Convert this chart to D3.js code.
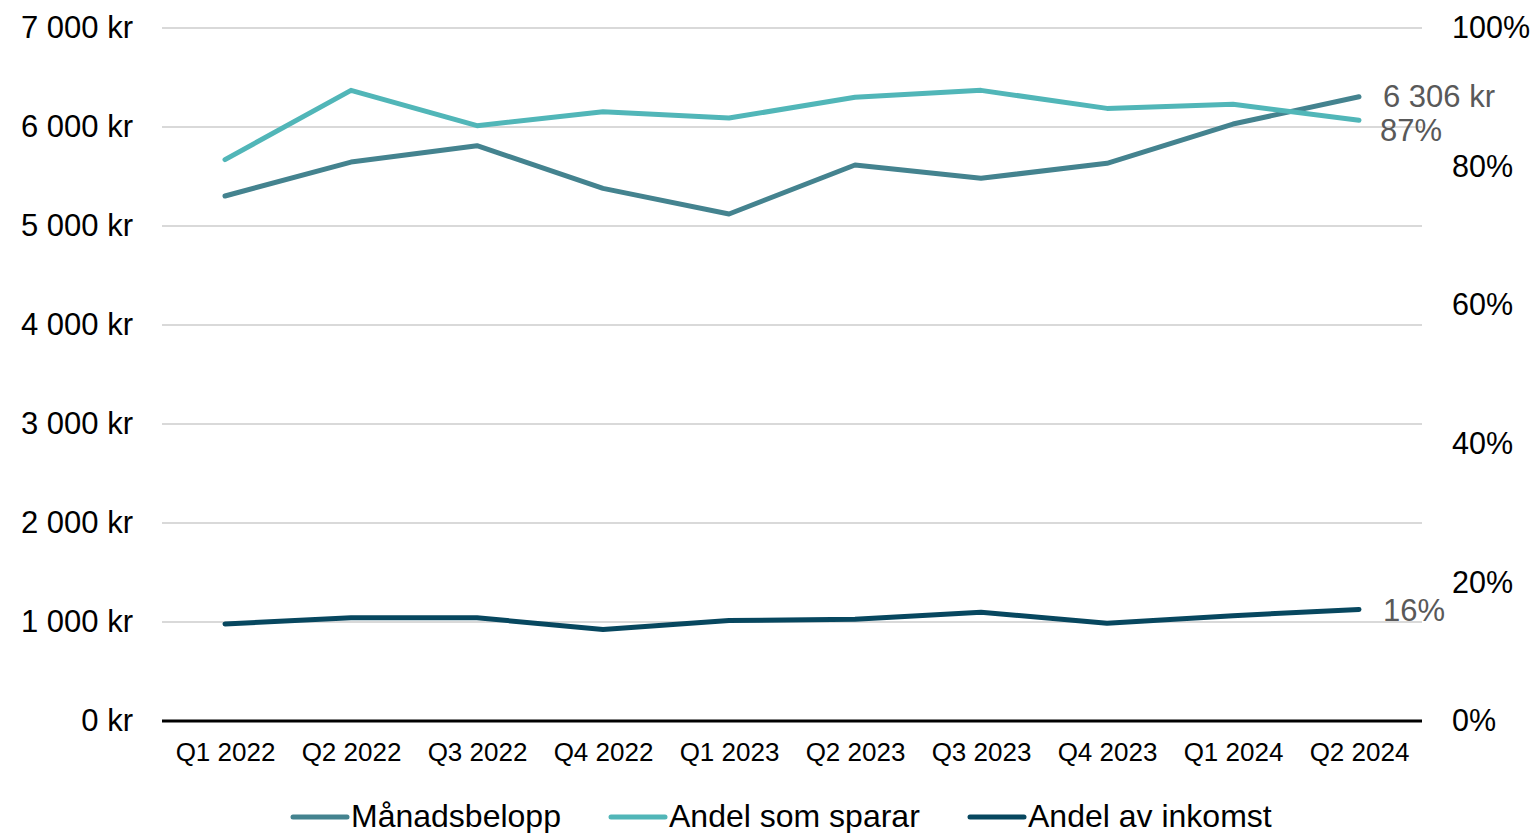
<!DOCTYPE html>
<html>
<head>
<meta charset="utf-8">
<script src="https://cdn.jsdelivr.net/npm/d3@7"></script>
<style>
	body { margin: 0; background: #fff; }
	svg { display: block; font-family: "Liberation Sans", Arial, sans-serif; }
</style>
</head>
<body>
<script>
// Kvartal på x-axeln
const quarters = ["Q1 2022", "Q2 2022", "Q3 2022", "Q4 2022", "Q1 2023", "Q2 2023", "Q3 2023", "Q4 2023", "Q1 2024", "Q2 2024"];

// Månadsbelopp i kr (vänster axel)
const manadsbelopp = [5303, 5646, 5811, 5380, 5121, 5616, 5482, 5633, 6030, 6306];

// Andel som sparar (höger axel)
const andelSparar = [0.81, 0.91, 0.859, 0.879, 0.87, 0.90, 0.91, 0.884, 0.89, 0.867];

// Andel av inkomst (höger axel)
const andelInkomst = [0.14, 0.149, 0.149, 0.132, 0.145, 0.147, 0.157, 0.141, 0.152, 0.161];

// Axelticks
const leftTicks = [0, 1000, 2000, 3000, 4000, 5000, 6000, 7000];
const rightTicks = [0, 0.2, 0.4, 0.6, 0.8, 1];

const w = 1537;
const h = 833;
const plotLeft = 162, plotRight = 1422, plotTop = 28, plotBottom = 721;

const svg = d3.select("body").append("svg").attr("width", w).attr("height", h);

const x = d3.scalePoint().domain(quarters).range([plotLeft, plotRight]).padding(0.5);
const yLeft = d3.scaleLinear().domain([0, 7000]).range([plotBottom, plotTop]);
const yRight = d3.scaleLinear().domain([0, 1]).range([plotBottom, plotTop]);

const fmtKr = (d) => d3.format(",")(d).replace(/,/g, " ") + " kr";
const fmtPct = (d) => Math.round(d * 100) + "%";

// Stödlinjer
svg.append("g")
	.selectAll("line")
	.data(leftTicks.filter((d) => d > 0))
	.enter()
	.append("line")
	.attr("x1", plotLeft)
	.attr("x2", plotRight)
	.attr("y1", (d) => yLeft(d))
	.attr("y2", (d) => yLeft(d))
	.attr("stroke", "#d9d9d9")
	.attr("stroke-width", 2);

// Vänster axel
const yAxisL = svg.append("g")
	.attr("transform", `translate(${plotLeft}, 0)`)
	.call(d3.axisLeft(yLeft).tickValues(leftTicks).tickFormat(fmtKr).tickSize(0).tickPadding(29));
yAxisL.select(".domain").remove();
yAxisL.selectAll("text").attr("font-size", 31).attr("fill", "#000").attr("font-family", "Liberation Sans, Arial, sans-serif");

// Höger axel
const yAxisR = svg.append("g")
	.attr("transform", `translate(${plotRight}, 0)`)
	.call(d3.axisRight(yRight).tickValues(rightTicks).tickFormat(fmtPct).tickSize(0).tickPadding(30));
yAxisR.select(".domain").remove();
yAxisR.selectAll("text").attr("font-size", 30.5).attr("fill", "#000").attr("font-family", "Liberation Sans, Arial, sans-serif");

// X-axel
const xAxis = svg.append("g")
	.attr("transform", `translate(0, ${plotBottom})`)
	.call(d3.axisBottom(x).tickSize(0).tickPadding(22));
xAxis.select(".domain").attr("stroke", "#000").attr("stroke-width", 3)
	.attr("d", `M${plotLeft},0H${plotRight}`);
xAxis.selectAll("text").attr("font-size", 26).attr("fill", "#000").attr("font-family", "Liberation Sans, Arial, sans-serif");

const series = [
	{ name: "Månadsbelopp", values: manadsbelopp, scale: yLeft, color: "#44838f", label: fmtKr, dx: 24, dy: 2 },
	{ name: "Andel som sparar", values: andelSparar, scale: yRight, color: "#51b6b8", label: fmtPct, dx: 21, dy: 13 },
	{ name: "Andel av inkomst", values: andelInkomst, scale: yRight, color: "#07475f", label: fmtPct, dx: 24, dy: 3 }
];

// Linjer
series.forEach((s) => {
	const line = d3.line()
		.x((d, i) => x(quarters[i]))
		.y((d) => s.scale(d));
	svg.append("path")
		.datum(s.values)
		.attr("d", line)
		.attr("fill", "none")
		.attr("stroke", s.color)
		.attr("stroke-width", 5)
		.attr("stroke-linecap", "round")
		.attr("stroke-linejoin", "round");

	// Etikett vid sista punkten
	const last = s.values[s.values.length - 1];
	svg.append("text")
		.attr("x", x(quarters[quarters.length - 1]) + s.dx)
		.attr("y", s.scale(last) + s.dy)
		.attr("dominant-baseline", "middle")
		.attr("font-size", 31)
		.attr("fill", "#595959")
		.text(s.label(last));
});

// Förklaring
const legendX = [293, 611, 970];
const legend = svg.append("g");
series.forEach((s, i) => {
	legend.append("line")
		.attr("x1", legendX[i])
		.attr("x2", legendX[i] + 54)
		.attr("y1", 817)
		.attr("y2", 817)
		.attr("stroke", s.color)
		.attr("stroke-width", 5)
		.attr("stroke-linecap", "round");
	legend.append("text")
		.attr("x", legendX[i] + 58)
		.attr("y", 827)
		.attr("font-size", 32)
		.attr("fill", "#000")
		.text(s.name);
});
</script>
</body>
</html>
